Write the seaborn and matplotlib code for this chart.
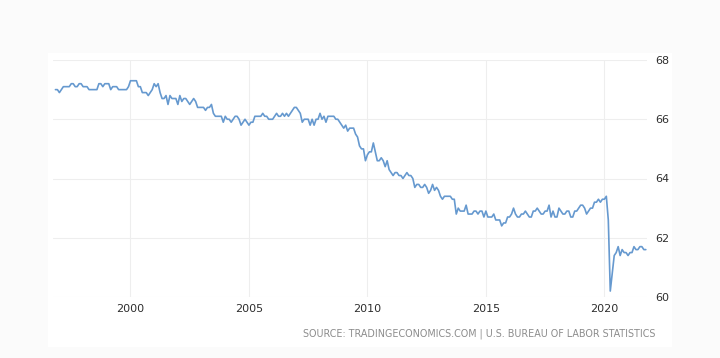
import numpy as np
import pandas as pd
import matplotlib
matplotlib.use("Agg")
import matplotlib.pyplot as plt
from matplotlib.patches import Rectangle
import seaborn as sns

# Monthly US labor force participation rate (%), Nov 1996 - Oct 2021
v1996 = [67.0, 67.0]
v1997 = [66.9, 67.0, 67.1, 67.1, 67.1, 67.1, 67.2, 67.2, 67.1, 67.1, 67.2, 67.2]
v1998 = [67.1, 67.1, 67.1, 67.0, 67.0, 67.0, 67.0, 67.0, 67.2, 67.2, 67.1, 67.2]
v1999 = [67.2, 67.2, 67.0, 67.1, 67.1, 67.1, 67.0, 67.0, 67.0, 67.0, 67.0, 67.1]
v2000 = [67.3, 67.3, 67.3, 67.3, 67.1, 67.1, 66.9, 66.9, 66.9, 66.8, 66.9, 67.0]
v2001 = [67.2, 67.1, 67.2, 66.9, 66.7, 66.7, 66.8, 66.5, 66.8, 66.7, 66.7, 66.7]
v2002 = [66.5, 66.8, 66.6, 66.7, 66.7, 66.6, 66.5, 66.6, 66.7, 66.6, 66.4, 66.4]
v2003 = [66.4, 66.4, 66.3, 66.4, 66.4, 66.5, 66.2, 66.1, 66.1, 66.1, 66.1, 65.9]
v2004 = [66.1, 66.0, 66.0, 65.9, 66.0, 66.1, 66.1, 66.0, 65.8, 65.9, 66.0, 65.9]
v2005 = [65.8, 65.9, 65.9, 66.1, 66.1, 66.1, 66.1, 66.2, 66.1, 66.1, 66.0, 66.0]
v2006 = [66.0, 66.1, 66.2, 66.1, 66.1, 66.2, 66.1, 66.2, 66.1, 66.2, 66.3, 66.4]
v2007 = [66.4, 66.3, 66.2, 65.9, 66.0, 66.0, 66.0, 65.8, 66.0, 65.8, 66.0, 66.0]
v2008 = [66.2, 66.0, 66.1, 65.9, 66.1, 66.1, 66.1, 66.1, 66.0, 66.0, 65.9, 65.8]
v2009 = [65.7, 65.8, 65.6, 65.7, 65.7, 65.7, 65.5, 65.4, 65.1, 65.0, 65.0, 64.6]
v2010 = [64.8, 64.9, 64.9, 65.2, 64.9, 64.6, 64.6, 64.7, 64.6, 64.4, 64.6, 64.3]
v2011 = [64.2, 64.1, 64.2, 64.2, 64.1, 64.1, 64.0, 64.1, 64.2, 64.1, 64.1, 64.0]
v2012 = [63.7, 63.8, 63.8, 63.7, 63.7, 63.8, 63.7, 63.5, 63.6, 63.8, 63.6, 63.7]
v2013 = [63.6, 63.4, 63.3, 63.4, 63.4, 63.4, 63.4, 63.3, 63.3, 62.8, 63.0, 62.9]
v2014 = [62.9, 62.9, 63.1, 62.8, 62.8, 62.8, 62.9, 62.9, 62.8, 62.9, 62.9, 62.7]
v2015 = [62.9, 62.7, 62.7, 62.7, 62.8, 62.6, 62.6, 62.6, 62.4, 62.5, 62.5, 62.7]
v2016 = [62.7, 62.8, 63.0, 62.8, 62.7, 62.7, 62.8, 62.8, 62.9, 62.8, 62.7, 62.7]
v2017 = [62.9, 62.9, 63.0, 62.9, 62.8, 62.8, 62.9, 62.9, 63.1, 62.7, 62.9, 62.7]
v2018 = [62.7, 63.0, 62.9, 62.8, 62.8, 62.9, 62.9, 62.7, 62.7, 62.9, 62.9, 63.0]
v2019 = [63.1, 63.1, 63.0, 62.8, 62.9, 63.0, 63.0, 63.2, 63.2, 63.3, 63.2, 63.3]
v2020 = [63.3, 63.4, 62.6, 60.2, 60.8, 61.4, 61.5, 61.7, 61.4, 61.6, 61.5, 61.5]
v2021 = [61.4, 61.5, 61.5, 61.7, 61.6, 61.6, 61.7, 61.7, 61.6, 61.6]

x_ticks = [2000, 2005, 2010, 2015, 2020]
x_tick_labels = ["2000", "2005", "2010", "2015", "2020"]
y_ticks = [60, 62, 64, 66, 68]
y_tick_labels = ["60", "62", "64", "66", "68"]
source_text = "SOURCE: TRADINGECONOMICS.COM | U.S. BUREAU OF LABOR STATISTICS"

values = (v1996 + v1997 + v1998 + v1999 + v2000 + v2001 + v2002 + v2003 + v2004
          + v2005 + v2006 + v2007 + v2008 + v2009 + v2010 + v2011 + v2012 + v2013
          + v2014 + v2015 + v2016 + v2017 + v2018 + v2019 + v2020 + v2021)
dates = pd.date_range("1996-11-01", periods=len(values), freq="MS")
df = pd.DataFrame({
    "year": dates.year + (dates.month - 1) / 12.0,
    "value": values,
})

sns.set_theme(style="white")
plt.rcParams["font.family"] = ["DejaVu Sans"]

W, H = 720, 358
fig = plt.figure(figsize=(W / 100, H / 100), dpi=100)
fig.patch.set_facecolor("#fbfbfb")
fig.patches.append(Rectangle((48 / W, 1 - 347 / H), (672 - 48) / W, (347 - 53) / H,
                             transform=fig.transFigure, facecolor="white",
                             edgecolor="none", zorder=-5))

ax = fig.add_axes([53 / W, 1 - 297 / H, (647 - 53) / W, (297 - 60) / H])
ax.set_zorder(2)
ax.set_facecolor("none")
sns.lineplot(data=df, x="year", y="value", ax=ax, color="#6699cf", linewidth=1.2)

ax.set_xlim(1996.73, 2021.80)
ax.set_ylim(60, 68)
ax.set_xticks(x_ticks)
ax.set_xticklabels(x_tick_labels)
ax.set_yticks(y_ticks)
ax.set_yticklabels(y_tick_labels)
ax.yaxis.tick_right()
ax.tick_params(axis="both", length=0, labelsize=8, labelcolor="#2e2e2e")
ax.tick_params(axis="y", pad=6)
ax.tick_params(axis="x", pad=5)
ax.set_xlabel("")
ax.set_ylabel("")
ax.grid(True, color="#eeeeee", linewidth=0.8)
ax.set_axisbelow(True)
for s in ax.spines.values():
    s.set_visible(False)

fig.text(655 / W, 1 - 334 / H, source_text, ha="right", va="center",
         fontsize=7.7, color="#8c8c8c", fontstretch="condensed", zorder=3)

fig.savefig("out.png", dpi=100, facecolor=fig.get_facecolor())
